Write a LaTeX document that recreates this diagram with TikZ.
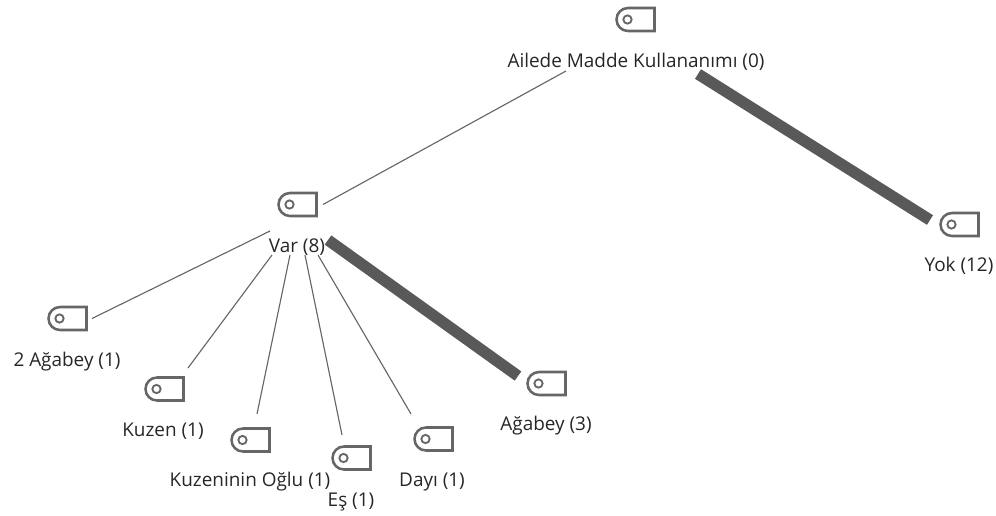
\documentclass[tikz,border=0pt]{standalone}
\usepackage{fontspec}
\setmainfont{Open Sans}
\definecolor{icongray}{HTML}{666666}
\definecolor{thickgray}{HTML}{595959}
\tikzset{
  x=0.75pt, y=-0.75pt,
  iconbox/.style={minimum width=28.5pt, minimum height=17.25pt, inner sep=0pt, outer sep=0pt},
  lbl/.style={inner sep=0pt, outer sep=0pt, anchor=center, font=\fontsize{14.2}{16}\selectfont, text=black!85},
  iconline/.style={draw=icongray, line width=1.9pt},
  iconhole/.style={draw=icongray, line width=1.4pt},
  thinconn/.style={draw=icongray, line width=0.85pt},
  thickconn/.style={draw=thickgray, line width=8.5pt},
}
\newcommand{\tagicon}[3]{%
  \node[iconbox] (#1) at (#2,#3) {};
  \draw[iconline] (#1.north east) -- (#1.south east) -- ([xshift=8.625pt]#1.south west)
    arc[start angle=270,end angle=90,radius=8.625pt] -- cycle;
  \draw[iconhole] ([xshift=8.25pt]#1.west) circle[radius=3.1pt];
}
\begin{document}
\begin{tikzpicture}
\useasboundingbox (0,0) rectangle (996,515);
\tagicon{rooticon}{635.5}{19.5}
\tagicon{varicon}{297.5}{204.5}
\tagicon{yokicon}{959.5}{224.5}
\tagicon{abi2icon}{67.5}{318.5}
\tagicon{kuzenicon}{164.5}{389}
\tagicon{kogluicon}{250.5}{440}
\tagicon{esicon}{351.5}{458}
\tagicon{dayiicon}{433.5}{439}
\tagicon{abiicon}{546.5}{383.5}
\node[lbl] (root) at (636,62) {Ailede Madde Kullananımı (0)};
\node[lbl] (var) at (297,247) {Var (8)};
\node[lbl] (yok) at (959,266) {Yok (12)};
\node[lbl] (abi2) at (67,362) {2 Ağabey (1)};
\node[lbl] (kuzen) at (163,431) {Kuzen (1)};
\node[lbl] (koglu) at (250,482) {Kuzeninin Oğlu (1)};
\node[lbl] (es) at (351,502) {Eş (1)};
\node[lbl] (dayi) at (432,482) {Dayı (1)};
\node[lbl] (abi) at (546,426) {Ağabey (3)};
\draw[thinconn] ([shift={(-70,9)}]root.center) -- ([shift={(25.5,0)}]varicon.center);
\draw[thickconn] ([shift={(62,12)}]root.center) -- ([shift={(-29.5,-4.5)}]yokicon.center);
\draw[thinconn] ([shift={(-27,-16)}]var.center) -- ([shift={(24.5,0)}]abi2icon.center);
\draw[thinconn] ([shift={(-25,8)}]var.center) -- ([shift={(23.5,-21)}]kuzenicon.center);
\draw[thinconn] ([shift={(-7,8)}]var.center) -- ([shift={(6.5,-26)}]kogluicon.center);
\draw[thinconn] ([shift={(8,8)}]var.center) -- ([shift={(-9.5,-23)}]esicon.center);
\draw[thinconn] ([shift={(21,8)}]var.center) -- ([shift={(-22.5,-25)}]dayiicon.center);
\draw[thickconn] ([shift={(31,-7)}]var.center) -- ([shift={(-28.5,-7.5)}]abiicon.center);
\end{tikzpicture}
\end{document}
